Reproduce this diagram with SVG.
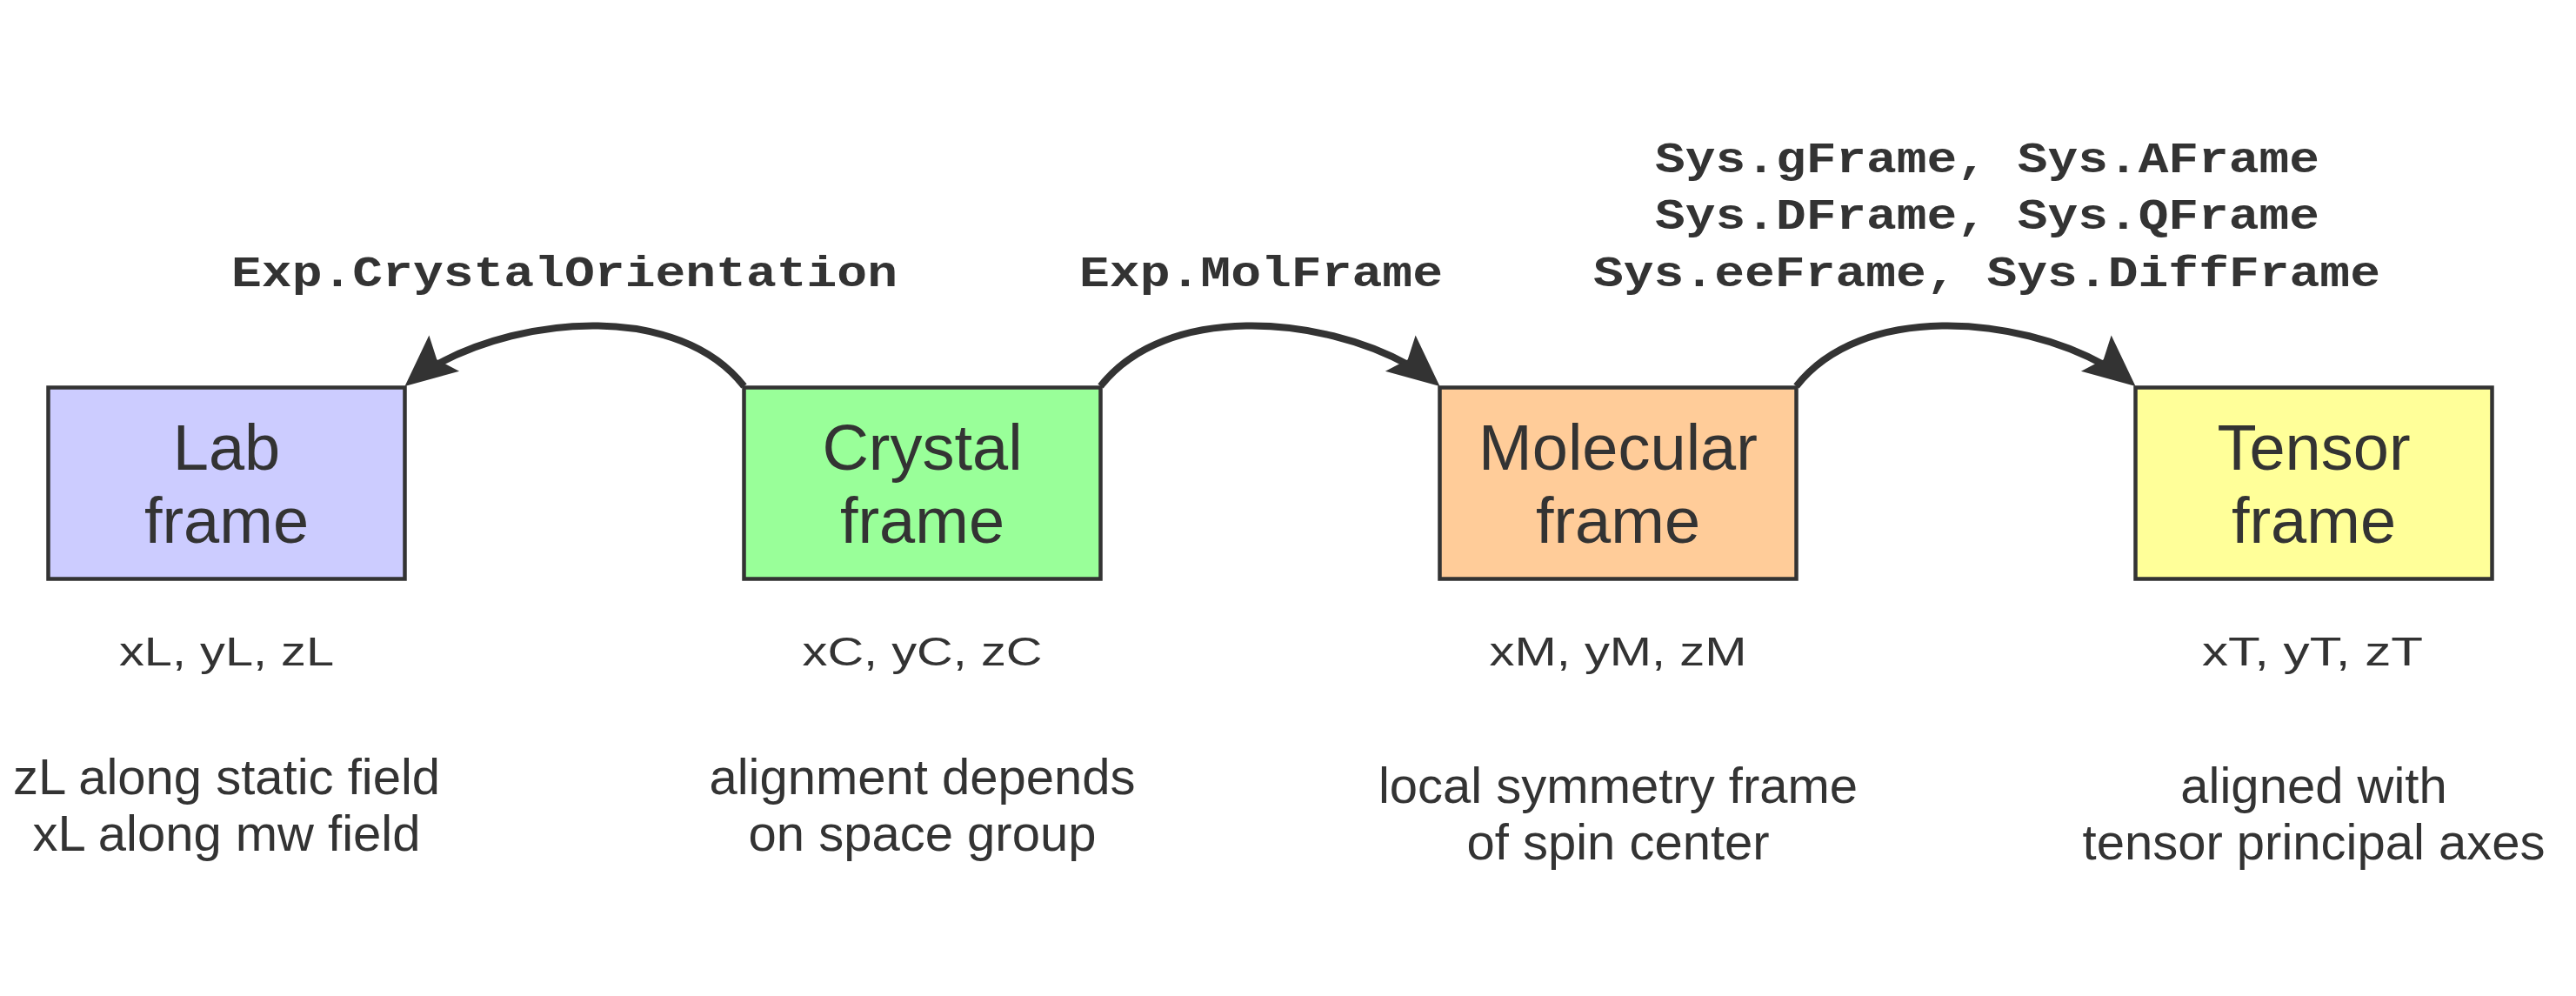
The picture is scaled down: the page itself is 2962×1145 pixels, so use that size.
<svg xmlns="http://www.w3.org/2000/svg" xmlns:xlink="http://www.w3.org/1999/xlink" width="2962" height="1145" viewBox="0 0 2962 1145">
  <style>
    .box { stroke: #333333; stroke-width: 4.5; }
    .title { font-family: "Liberation Sans", Arial, sans-serif; font-size: 74px; fill: #333333; text-anchor: middle; }
    .coord { font-family: "Liberation Sans", Arial, sans-serif; font-size: 47px; fill: #333333; }
    .desc { font-family: "Liberation Sans", Arial, sans-serif; font-size: 58px; fill: #333333; text-anchor: middle; }
    .code { font-family: "Liberation Mono", "Courier New", monospace; font-size: 50px; font-weight: bold; fill: #333333; }
    .conn { fill: none; stroke: #333333; stroke-width: 8; }
    .head { fill: #333333; stroke: none; }
  </style>
  <defs>
    <path id="arrowhead" d="M0,0 L-59,-27 L-48,0 L-59,27 Z"/>
  </defs>
  <rect width="2962" height="1145" fill="#ffffff"/>

  <g id="lab-frame">
    <rect class="box" x="55.5" y="445.5" width="410" height="220" fill="#ccccff"/>
    <text class="title" x="260.5" y="540">Lab</text>
    <text class="title" x="260.5" y="624">frame</text>
    <text class="coord" x="137" y="765" textLength="247" lengthAdjust="spacingAndGlyphs">xL, yL, zL</text>
    <text class="desc" x="260.5" y="913">zL along static field</text>
    <text class="desc" x="260.5" y="978">xL along mw field</text>
  </g>

  <g id="crystal-frame">
    <rect class="box" x="855.5" y="445.5" width="410" height="220" fill="#99ff99"/>
    <text class="title" x="1060.5" y="540">Crystal</text>
    <text class="title" x="1060.5" y="624">frame</text>
    <text class="coord" x="922.5" y="765" textLength="276" lengthAdjust="spacingAndGlyphs">xC, yC, zC</text>
    <text class="desc" x="1060.5" y="913">alignment depends</text>
    <text class="desc" x="1060.5" y="978">on space group</text>
  </g>

  <g id="molecular-frame">
    <rect class="box" x="1655.5" y="445.5" width="410" height="220" fill="#ffcc99"/>
    <text class="title" x="1860.5" y="540">Molecular</text>
    <text class="title" x="1860.5" y="624">frame</text>
    <text class="coord" x="1712.5" y="765" textLength="296" lengthAdjust="spacingAndGlyphs">xM, yM, zM</text>
    <text class="desc" x="1860.5" y="923">local symmetry frame</text>
    <text class="desc" x="1860.5" y="988">of spin center</text>
  </g>

  <g id="tensor-frame">
    <rect class="box" x="2455.5" y="445.5" width="410" height="220" fill="#ffff99"/>
    <text class="title" x="2660.5" y="540">Tensor</text>
    <text class="title" x="2660.5" y="624">frame</text>
    <text class="coord" x="2532" y="765" textLength="254" lengthAdjust="spacingAndGlyphs">xT, yT, zT</text>
    <text class="desc" x="2660.5" y="923">aligned with</text>
    <text class="desc" x="2660.5" y="988">tensor principal axes</text>
  </g>

  <g id="connectors">
    <g id="crystal-to-lab">
      <path class="conn" d="M855.5,444 C780.56,348.15 602.02,362.48 499.63,420.58"/>
      <use xlink:href="#arrowhead" href="#arrowhead" class="head" transform="translate(465.5,444) rotate(140)"/>
      <text class="code" x="266" y="329" textLength="766" lengthAdjust="spacingAndGlyphs">Exp.CrystalOrientation</text>
    </g>
    <g id="crystal-to-molecular">
      <path class="conn" d="M1265.5,444 C1340.44,348.15 1518.98,362.48 1621.37,420.58"/>
      <use xlink:href="#arrowhead" href="#arrowhead" class="head" transform="translate(1655.5,444) rotate(40)"/>
      <text class="code" x="1241" y="329" textLength="418" lengthAdjust="spacingAndGlyphs">Exp.MolFrame</text>
    </g>
    <g id="molecular-to-tensor">
      <path class="conn" d="M2065.5,444 C2140.44,348.15 2318.98,362.48 2421.37,420.58"/>
      <use xlink:href="#arrowhead" href="#arrowhead" class="head" transform="translate(2455.5,444) rotate(40)"/>
      <text class="code" x="1903" y="198" textLength="764" lengthAdjust="spacingAndGlyphs">Sys.gFrame, Sys.AFrame</text>
      <text class="code" x="1903" y="263" textLength="764" lengthAdjust="spacingAndGlyphs">Sys.DFrame, Sys.QFrame</text>
      <text class="code" x="1832" y="329" textLength="905" lengthAdjust="spacingAndGlyphs">Sys.eeFrame, Sys.DiffFrame</text>
    </g>
  </g>
</svg>
